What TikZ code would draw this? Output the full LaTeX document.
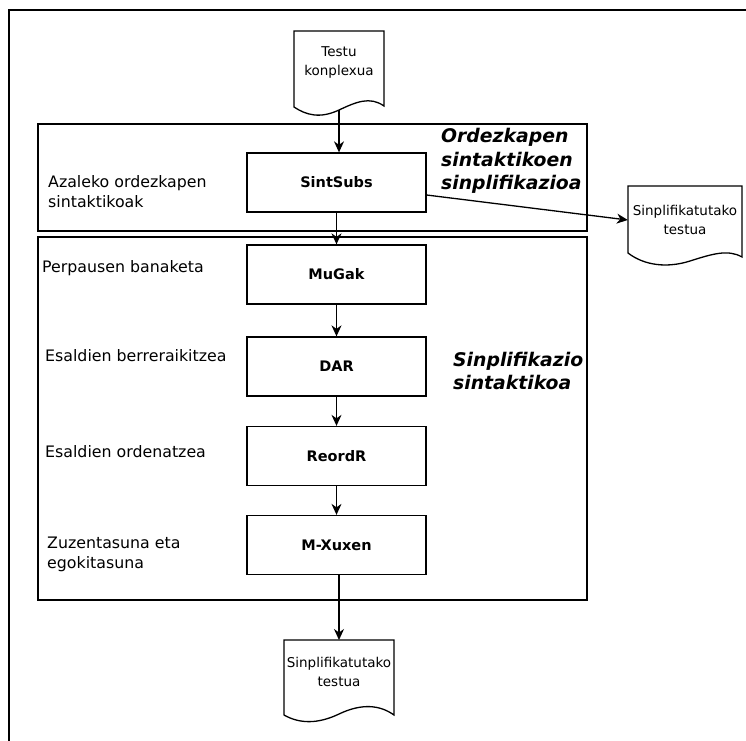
\documentclass[tikz,border=0pt]{standalone}
\usepackage{fontspec}
\setmainfont{DejaVu Sans}
\usetikzlibrary{arrows.meta}
\begin{document}
\begin{tikzpicture}[x=1pt,y=-1pt,
  lw/.style={line width=1.3pt},
  proc/.style={draw,lw,minimum width=179pt,minimum height=59pt,inner sep=0pt,
    font=\bfseries\fontsize{14.5}{17}\selectfont},
  doctext/.style={align=center,inner sep=0pt,font=\fontsize{13.5}{19}\selectfont},
  lbl/.style={anchor=west,align=left,inner sep=0pt,font=\fontsize{15.8}{20}\selectfont},
  head/.style={anchor=west,align=left,inner sep=0pt,font=\bfseries\itshape\fontsize{18.8}{23.5}\selectfont},
  arr/.style={lw,-{Stealth[length=11pt,width=10pt,inset=3.5pt]}}]
\useasboundingbox (0,0) rectangle (746,740);
\clip (0,0) rectangle (746,740);
% outer frame
\draw[lw] (9,10) rectangle (800,800);
% group boxes
\draw[lw] (38,124) rectangle (587,231);
\draw[lw] (38,237) rectangle (587,600);
% documents
\draw[lw] (294,31) -- (384,31) -- (384,106)
  .. controls (370,96) and (356,102) .. (339,110)
  .. controls (320,119) and (306,115) .. (294,107) -- cycle;
\node[doctext,minimum width=90pt] (doc1) at (339,62) {Testu\\konplexua};
\coordinate (doc1b) at (339,110);
\draw[lw] (628,186) -- (742,186) -- (742,257)
  .. controls (728,249) and (712,254) .. (690,261)
  .. controls (668,268) and (645,266) .. (628,253) -- cycle;
\node[doctext,minimum width=114pt,minimum height=20pt] (rdoc) at (685,220) {Sinplifikatutako\\testua};
\draw[lw] (284,640) -- (394,640) -- (394,715)
  .. controls (380,705) and (362,703) .. (339,714)
  .. controls (318,724) and (300,724) .. (284,715) -- cycle;
\node[doctext,minimum width=110pt] (bdoc) at (339,672) {Sinplifikatutako\\testua};
\coordinate (bdoct) at (339,640);
% process boxes
\node[proc] (sint) at (336.5,182.5) {SintSubs};
\node[proc] (mugak) at (336.5,274.5) {MuGak};
\node[proc] (dar) at (336.5,366.5) {DAR};
\node[proc] (reordr) at (336.5,456) {ReordR};
\node[proc] (mx) at (336.5,545) {M-Xuxen};
% labels
\node[lbl] (l1) at (48,192) {Azaleko ordezkapen\\sintaktikoak};
\node[lbl] (l2) at (42,268) {Perpausen banaketa};
\node[lbl] (l3) at (45,356) {Esaldien berreraikitzea};
\node[lbl] (l4) at (45,452) {Esaldien ordenatzea};
\node[lbl] (l5) at (47,554) {Zuzentasuna eta\\egokitasuna};
\node[head] (h1) at (441,161) {Ordezkapen\\sintaktikoen\\sinplifikazioa};
\node[head] (h2) at (453,371) {Sinplifikazio\\sintaktikoa};
% connectors
\draw[arr] (doc1b) -- (sint.north -| doc1b);
\draw[arr] (sint) -- (mugak);
\draw[arr] (mugak) -- (dar);
\draw[arr] (dar) -- (reordr);
\draw[arr] (reordr) -- (mx);
\draw[arr] (mx.south -| bdoct) -- (bdoct);
\draw[arr] ([yshift=-12.5pt]sint.east) -- (rdoc.west);
\end{tikzpicture}
\end{document}
